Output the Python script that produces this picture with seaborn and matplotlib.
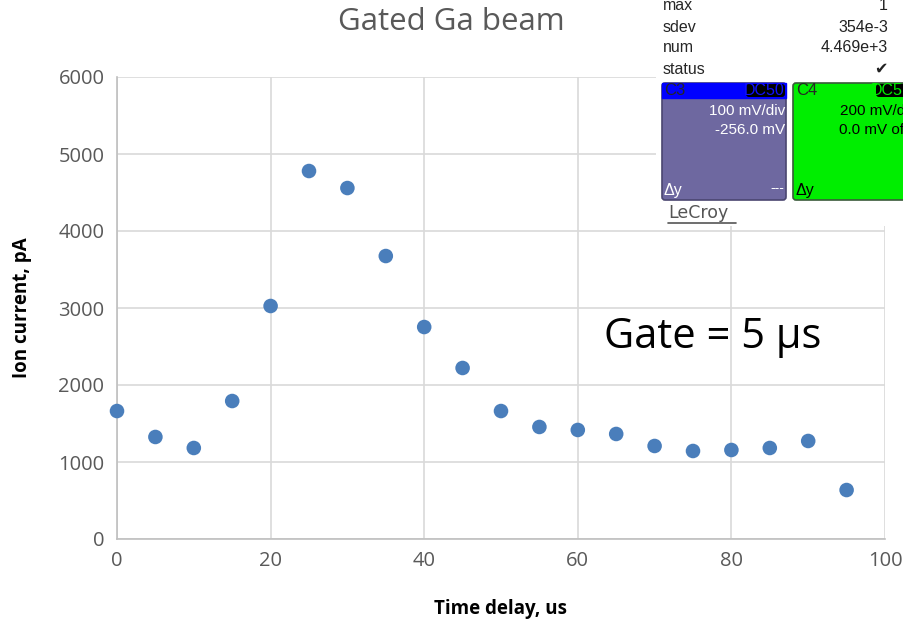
import seaborn as sns
import matplotlib.pyplot as plt
import matplotlib.patches as mpatches
import pandas as pd

# data
delay_us = [0, 5, 10, 15, 20, 25, 30, 35, 40, 45, 50, 55, 60, 65, 70, 75, 80, 85, 90, 95]
ion_current_pA = [1662, 1325, 1182, 1792, 3026, 4779, 4558, 3675, 2753, 2221,
                  1662, 1455, 1416, 1364, 1208, 1143, 1156, 1182, 1273, 636]
x_ticks = [0, 20, 40, 60, 80, 100]
y_ticks = [0, 1000, 2000, 3000, 4000, 5000, 6000]

# scope readout rows shown in the inset
scope_labels = ["max", "sdev", "num", "status"]
scope_values = ["1", "354e-3", "4.469e+3", "\u2714"]

sns.set_theme(style="white")
plt.rcParams['font.family'] = ['Open Sans', 'DejaVu Sans']

df = pd.DataFrame({"delay": delay_us, "current": ion_current_pA})

fig = plt.figure(figsize=(9.04, 6.23), dpi=100)
ax = fig.add_axes([117/904, 84/623, 768/904, 462/623])

sns.scatterplot(data=df, x="delay", y="current", ax=ax, color="#4a7ebb",
                s=110, edgecolor="none", zorder=3, clip_on=False)

ax.set_xlim(0, 100)
ax.set_ylim(0, 6000)
ax.set_xticks(x_ticks)
ax.set_yticks(y_ticks)
ax.grid(True, color="#d9d9d9", lw=1.2)
ax.set_axisbelow(True)
for s in ["top", "right"]:
    ax.spines[s].set_visible(False)
for s in ["left", "bottom"]:
    ax.spines[s].set_color("#bfbfbf")
    ax.spines[s].set_linewidth(1.2)
ax.tick_params(axis="both", length=0, labelsize=14.5, colors="#595959", pad=9)
ax.set_xlabel("Time delay, us", fontsize=13.5, fontweight="bold", color="black", labelpad=20)
ax.set_ylabel("Ion current, pA", fontsize=13.5, fontweight="bold", color="black", labelpad=19)

fig.text(451/904, 1 - 22/623, "Gated Ga beam", ha="center", va="center",
         fontsize=22.5, color="#595959")
fig.text(713/904, 1 - 337/623, "Gate = 5 \u03bcs", ha="center",
         va="center", fontsize=30, color="black")

# oscilloscope screenshot inset, top right
ins = fig.add_axes([656/904, 1 - 226/623, 248/904, 226/623])
ins.set_xlim(656, 904)
ins.set_ylim(226, 0)
ins.axis("off")
ins.add_patch(mpatches.Rectangle((656, 0), 248, 226, color="white", zorder=0))
for i, (lab, val) in enumerate(zip(scope_labels, scope_values)):
    yy = 6 + i * 21
    ins.text(663, yy, lab, fontsize=11.5, va="center", ha="left", family="Liberation Sans")
    ins.text(888, yy, val, fontsize=11.5, va="center", ha="right",
             family=["Liberation Sans", "DejaVu Sans"], color="#222222")

# C3 panel
ins.add_patch(mpatches.FancyBboxPatch((662, 83), 124, 117, boxstyle="round,pad=0,rounding_size=3",
                                      fc="#6e68a0", ec="#4a4670", lw=1.2, zorder=1))
ins.add_patch(mpatches.Rectangle((662, 83), 124, 15, color="#0000ff", zorder=2))
ins.add_patch(mpatches.FancyBboxPatch((746, 84), 39, 13, boxstyle="round,pad=0,rounding_size=3",
                                      fc="black", ec="none", zorder=3))
ins.text(664, 90.5, "C3", fontsize=12, va="center", family="Liberation Sans", zorder=4)
ins.text(785, 90.5, "DC50", fontsize=11.5, va="center", ha="right", color="#1010ff",
         family="Liberation Sans", zorder=4)
ins.text(785, 111, "100 mV/div", fontsize=11, va="center", ha="right", color="white",
         family="Liberation Sans", zorder=4)
ins.text(785, 130, "-256.0 mV", fontsize=11, va="center", ha="right", color="white",
         family="Liberation Sans", zorder=4)
ins.text(664, 190, "\u0394y", fontsize=11.5, va="center", color="white",
         family="Liberation Sans", zorder=4)
ins.text(784, 188, "---", fontsize=10, va="center", ha="right", color="white",
         family="Liberation Sans", zorder=4)

# C4 panel (cut off at right edge, as in the screenshot)
ins.add_patch(mpatches.FancyBboxPatch((793, 83), 120, 117, boxstyle="round,pad=0,rounding_size=3",
                                      fc="#00ee00", ec="#3a5a3a", lw=1.2, zorder=1))
ins.add_patch(mpatches.FancyBboxPatch((876, 84), 40, 13, boxstyle="round,pad=0,rounding_size=3",
                                      fc="black", ec="none", zorder=3))
ins.text(796, 90.5, "C4", fontsize=12, va="center", family="Liberation Sans", zorder=4)
ins.text(903, 90.5, "DC5", fontsize=11.5, va="center", ha="right", color="#00ee00",
         family="Liberation Sans", zorder=4)
ins.text(840, 111, "200 mV/d", fontsize=11, va="center", ha="left", color="black",
         family="Liberation Sans", zorder=4)
ins.text(839, 130, "0.0 mV of", fontsize=11, va="center", ha="left", color="black",
         family="Liberation Sans", zorder=4)
ins.text(796, 190, "\u0394y", fontsize=11.5, va="center", color="black",
         family="Liberation Sans", zorder=4)
ins.text(668, 213, "LeCroy", fontsize=12.5, va="center", color="#555555",
         family="DejaVu Sans")
ins.plot([668, 736], [223, 223], color="#555555", lw=1.2)

fig.savefig("out.png", dpi=100)
